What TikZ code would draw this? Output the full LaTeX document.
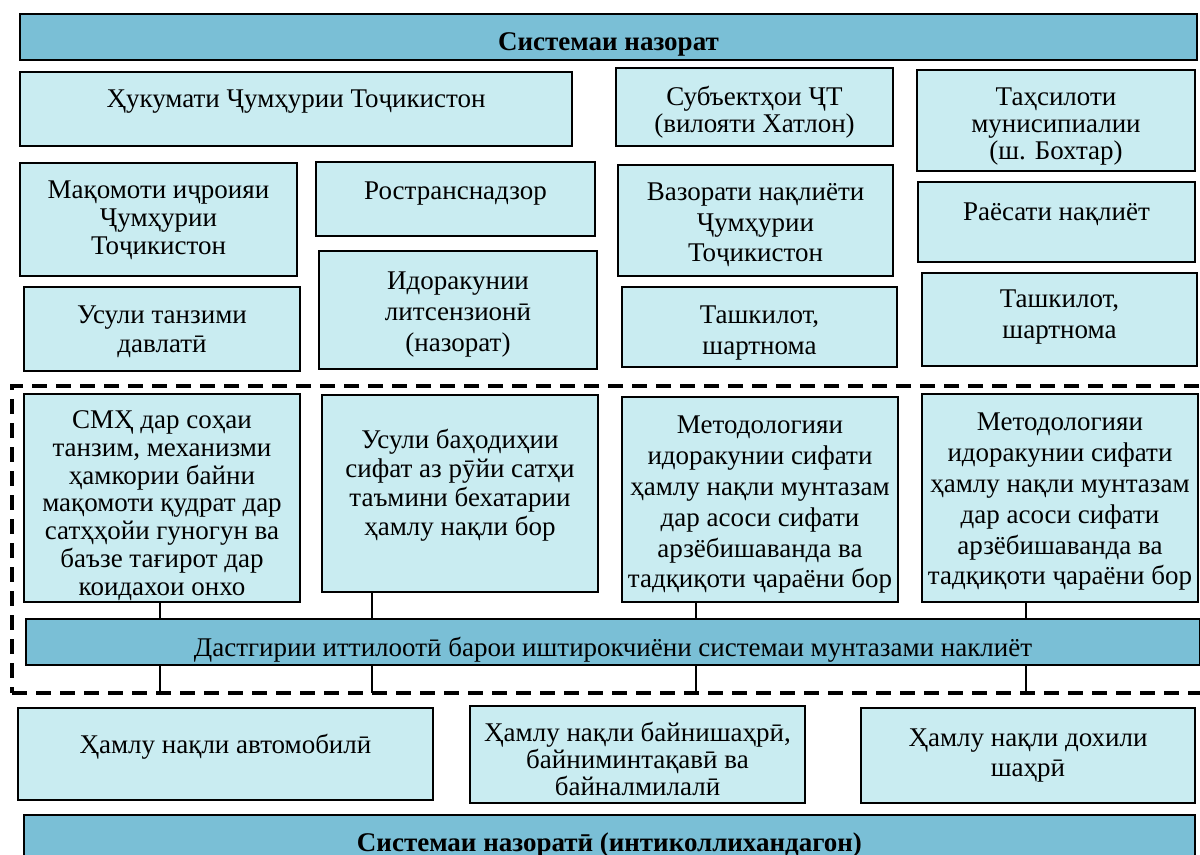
\documentclass[tikz,border=0pt]{standalone}
\usepackage{fontspec}
\setmainfont{Liberation Serif}
\definecolor{lightb}{RGB}{201,236,241}
\definecolor{darkb}{RGB}{122,191,214}
\tikzset{
  box/.style={draw=black, line width=1.2pt, inner sep=0pt, outer sep=0pt},
  txt/.style={inner sep=0pt, align=center},
  conn/.style={draw=black, line width=1pt},
  grp/.style={draw=black, line width=1.6pt, dash pattern=on 7.5pt off 4.5pt, inner sep=0pt, outer sep=0pt}
}
\newcommand\bx[9]{%
  \node[box, fill=#6, minimum width={(#4-#2)*0.5pt}, minimum height={(#5-#3)*0.5pt}, anchor=north west] (#1) at (#2,#3) {};
  \node[txt, font=\fontsize{13.5pt}{#8pt}\selectfont] (#1t) at ({(#2+#4)/2},{#7}) {#9};}
\begin{document}
\begin{tikzpicture}[x=0.5pt,y=-0.5pt]
\useasboundingbox (0,0) rectangle (1200,855);
% top bar
\bx{top}{20}{14}{1197}{60}{darkb}{44}{15}{\textbf{Системаи назорат}}
% row 1
\bx{huk}{20}{72}{572}{146}{lightb}{102}{15}{Ҳукумати Ҷумҳурии Тоҷикистон}
\bx{sub}{616}{68}{893}{146}{lightb}{112}{13.5}{Субъектҳои ҶТ\\(вилояти Хатлон)}
\bx{tah}{917}{70}{1195}{171}{lightb}{127}{13.5}{Таҳсилоти\\мунисипиалии\\(ш. Бохтар)}
% row 2
\bx{mak}{20}{163}{297}{276}{lightb}{220}{14}{Мақомоти иҷроияи\\Ҷумҳурии\\Тоҷикистон}
\bx{ros}{316}{162}{595}{236}{lightb}{194}{15}{Ространснадзор}
\bx{vaz}{618}{165}{893}{276}{lightb}{225}{15.25}{Вазорати нақлиёти\\Ҷумҳурии\\Тоҷикистон}
\bx{rae}{918}{182}{1195}{262}{lightb}{214}{15}{Раёсати нақлиёт}
% row 3
\bx{usu}{24}{287}{300}{371}{lightb}{331.5}{14.5}{Усули танзими\\давлатӣ}
\bx{ido}{319}{251}{597}{369}{lightb}{315}{15.5}{Идоракунии\\литсензионӣ\\(назорат)}
\bx{tasa}{622}{287}{897}{367}{lightb}{333.5}{15.5}{Ташкилот,\\шартнома}
\bx{tasb}{922}{273}{1197}{366}{lightb}{317.5}{15.5}{Ташкилот,\\шартнома}
% dashed group
\node[grp, minimum width={1196*0.5pt}, minimum height={307*0.5pt}, anchor=north west] (grp) at (12,386) {};
\bx{smh}{24}{394}{300}{602}{lightb}{505.5}{13.9}{СМҲ дар соҳаи\\танзим, механизми\\ҳамкории байни\\мақомоти қудрат дар\\сатҳҳойи гуногун ва\\баъзе тағирот дар\\коидахои онхо}
\bx{usb}{322}{395}{598}{592}{lightb}{485.5}{14.5}{Усули баҳодиҳии\\сифат аз рӯйи сатҳи\\таъмини бехатарии\\ҳамлу нақли бор}
\bx{meta}{622}{397}{898}{602}{lightb}{505}{15.4}{Методологияи\\идоракунии сифати\\ҳамлу нақли мунтазам\\дар асоси сифати\\арзёбишаванда ва\\тадқиқоти ҷараёни бор}
\bx{metb}{922}{394}{1198}{602}{lightb}{502}{15.4}{Методологияи\\идоракунии сифати\\ҳамлу нақли мунтазам\\дар асоси сифати\\арзёбишаванда ва\\тадқиқоти ҷараёни бор}
\bx{bar}{26}{619}{1200}{665}{darkb}{650}{15}{Дастгирии иттилоотӣ барои иштирокчиёни системаи мунтазами наклиёт}
% connectors
\coordinate (ca) at (160,0);
\coordinate (cb) at (372,0);
\coordinate (cc) at (696,0);
\coordinate (cd) at (1026,0);
\draw[conn] (ca |- smh.south) -- (ca |- bar.north);
\draw[conn] (cb |- usb.south) -- (cb |- bar.north);
\draw[conn] (cc |- meta.south) -- (cc |- bar.north);
\draw[conn] (cd |- metb.south) -- (cd |- bar.north);
\draw[conn] (ca |- bar.south) -- (ca |- grp.south);
\draw[conn] (cb |- bar.south) -- (cb |- grp.south);
\draw[conn] (cc |- bar.south) -- (cc |- grp.south);
\draw[conn] (cd |- bar.south) -- (cd |- grp.south);
% bottom row
\bx{avt}{18}{708}{433}{800}{lightb}{747}{15}{Ҳамлу нақли автомобилӣ}
\bx{bsh}{470}{706}{805}{803}{lightb}{758.5}{13.5}{Ҳамлу нақли байнишаҳрӣ,\\байниминтақавӣ ва\\байналмилалӣ}
\bx{doh}{861}{708}{1195}{803}{lightb}{756}{15}{Ҳамлу нақли дохили\\шаҳрӣ}
\bx{bot}{24}{815}{1195}{872}{darkb}{845}{15}{\textbf{Системаи назоратӣ (интиколлихандагон)}}
\end{tikzpicture}
\end{document}
